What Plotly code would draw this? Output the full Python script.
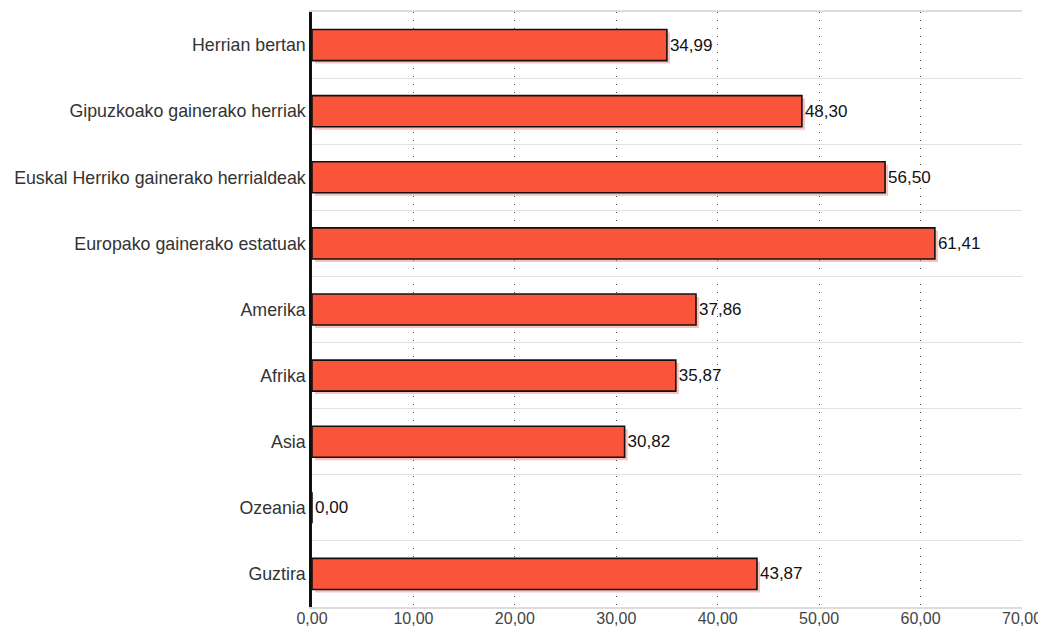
import plotly.graph_objects as go

categories = [
    "Herrian bertan",
    "Gipuzkoako gainerako herriak",
    "Euskal Herriko gainerako herrialdeak",
    "Europako gainerako estatuak",
    "Amerika",
    "Afrika",
    "Asia",
    "Ozeania",
    "Guztira",
]
values = [34.99, 48.30, 56.50, 61.41, 37.86, 35.87, 30.82, 0.00, 43.87]
x_ticks = [0, 10, 20, 30, 40, 50, 60, 70]

BAR_W = 0.47
SHADOW_SHIFT_X = 0.3
SHADOW_SHIFT_Y = 0.045

fig = go.Figure()

# soft shadow behind bars
fig.add_trace(go.Bar(
    y=categories, x=values, orientation="h",
    base=SHADOW_SHIFT_X,
    width=BAR_W, offset=-BAR_W / 2 + SHADOW_SHIFT_Y,
    marker=dict(color="rgba(235,120,110,0.45)", line=dict(width=0)),
    hoverinfo="skip", showlegend=False,
))

fig.add_trace(go.Bar(
    y=categories, x=values, orientation="h",
    width=BAR_W, offset=-BAR_W / 2,
    marker=dict(color="#FA553B", line=dict(color="#111111", width=1.6)),
    texttemplate="%{x:.2f}", textposition="outside",
    textfont=dict(family="Liberation Sans", size=17, color="#111111"),
    cliponaxis=False, showlegend=False,
))

# page body adds ~8px offset; margins compensate so plot area spans x 312-1022, y 12-607
fig.update_layout(
    width=1046, height=628,
    margin=dict(l=304, r=32, t=4, b=29),
    paper_bgcolor="white", plot_bgcolor="white",
    barmode="overlay",
    separators=",.",
    font=dict(family="Liberation Sans", size=16, color="#333333"),
    xaxis=dict(
        range=[0, 70], tickvals=x_ticks, tickformat=".2f",
        showgrid=True, gridcolor="#444444", griddash="1px,7px", gridwidth=1.3,
        zeroline=False, showline=True, mirror=True,
        linecolor="#dcdcdc", linewidth=2, ticks="",
        automargin=False, ticklabelstandoff=-4,
        tickfont=dict(size=16, color="#444444"),
    ),
    yaxis=dict(
        autorange="reversed", tickson="boundaries",
        showgrid=True, gridcolor="#e2e2e2", gridwidth=1,
        showline=True, linecolor="#111111", linewidth=2.5,
        ticks="", ticklabelstandoff=0, automargin=False,
        tickfont=dict(size=17.8, color="#333333"),
    ),
)

fig.write_html("out.html")
